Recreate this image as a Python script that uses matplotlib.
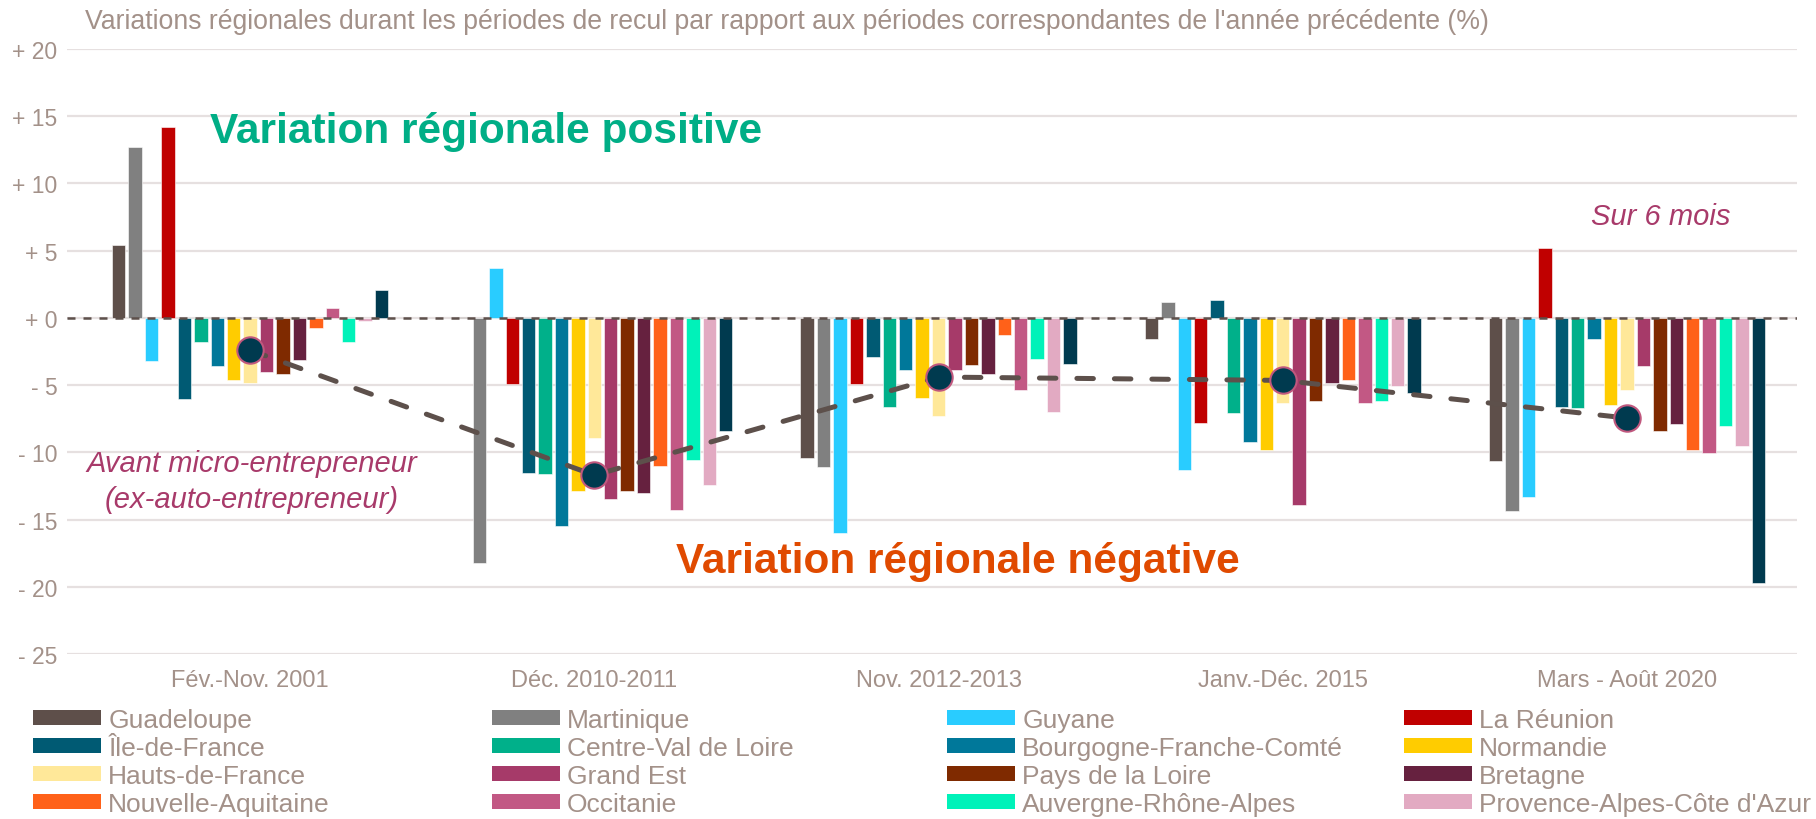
import matplotlib
matplotlib.use("Agg")
import matplotlib.pyplot as plt
from matplotlib.patches import Patch
import numpy as np

plt.rcParams["font.family"] = ["Liberation Sans", "DejaVu Sans"]

periods = ["Fév.-Nov. 2001", "Déc. 2010-2011", "Nov. 2012-2013",
           "Janv.-Déc. 2015", "Mars - Août 2020"]

regions = ["Guadeloupe", "Martinique", "Guyane", "La Réunion", "Île-de-France",
           "Centre-Val de Loire", "Bourgogne-Franche-Comté", "Normandie",
           "Hauts-de-France", "Grand Est", "Pays de la Loire", "Bretagne",
           "Nouvelle-Aquitaine", "Occitanie", "Auvergne-Rhône-Alpes",
           "Provence-Alpes-Côte d'Azur", "Corse"]

region_colors = ["#5E4F4A", "#808080", "#29CCFF", "#C00000", "#005A73",
                 "#00B08A", "#00789A", "#FFCC00", "#FFE899", "#A63A69",
                 "#7F2A00", "#66213F", "#FF6119", "#C25884", "#00F2B9",
                 "#E2AAC2", "#003A4F"]

# variation (%) per region, one value per period
guadeloupe = [5.4, 0.1, -10.4, -1.6, -10.65]
martinique = [12.7, -18.2, -11.1, 1.2, -14.4]
guyane = [-3.2, 3.7, -16.0, -11.35, -13.35]
la_reunion = [14.2, -4.9, -4.9, -7.85, 5.2]
ile_de_france = [-6.0, -11.5, -2.9, 1.35, -6.6]
centre_val_de_loire = [-1.8, -11.6, -6.6, -7.1, -6.7]
bourgogne_fc = [-3.6, -15.5, -3.9, -9.2, -1.6]
normandie = [-4.6, -12.9, -5.95, -9.85, -6.45]
hauts_de_france = [-4.85, -8.95, -7.3, -6.3, -5.35]
grand_est = [-4.0, -13.5, -3.9, -13.9, -3.55]
pays_de_la_loire = [-4.2, -12.9, -3.5, -6.2, -8.45]
bretagne = [-3.1, -13.0, -4.2, -4.85, -7.9]
nouvelle_aquitaine = [-0.75, -11.0, -1.25, -4.6, -9.85]
occitanie = [0.75, -14.3, -5.4, -6.3, -10.05]
auvergne_ra = [-1.8, -10.6, -3.05, -6.2, -8.05]
paca = [-0.25, -12.4, -7.0, -5.1, -9.5]
corse = [2.1, -8.4, -3.4, -5.6, -19.75]

national = [-2.4, -11.7, -4.4, -4.65, -7.45]

series = [guadeloupe, martinique, guyane, la_reunion, ile_de_france,
          centre_val_de_loire, bourgogne_fc, normandie, hauts_de_france,
          grand_est, pays_de_la_loire, bretagne, nouvelle_aquitaine,
          occitanie, auvergne_ra, paca, corse]

W, H = 1816, 820
TAUPE = "#A39189"

fig = plt.figure(figsize=(W / 100, H / 100), dpi=100)
ax = fig.add_axes([67 / W, 1 - 655 / H, (1797 - 67) / W, (655 - 50) / H])

x = np.arange(len(periods))
pitch = 0.0477
width = 0.039
n = len(series)
for j, (vals, col) in enumerate(zip(series, region_colors)):
    ax.bar(x + (j - (n - 1) / 2) * pitch, vals, width, color=col,
           edgecolor="white", linewidth=0.4, zorder=2)

ax.axhline(0, color="#5D504B", lw=1.8, ls=(0, (3.2, 3.2)), zorder=3)

ax.plot(x, national, color="#5D504B", lw=3.6, ls=(0, (3.3, 4.2)),
        dash_capstyle="round", zorder=4)
ax.plot(x, national, ls="none", marker="o", ms=19, mfc="#003A4F",
        mec="#C0587E", mew=1.5, zorder=5)

ax.set_xlim(-0.532, 4.494)
ax.set_ylim(-25, 20)
ticks = np.arange(-25, 21, 5)
ax.set_yticks(ticks)
ax.set_yticklabels([("+ %d" % t) if t >= 0 else ("- %d" % -t) for t in ticks])
ax.set_xticks(x)
ax.set_xticklabels(periods)
ax.tick_params(length=0, labelcolor=TAUPE)
ax.tick_params(axis="y", pad=7, labelsize=16.5)
ax.tick_params(axis="x", pad=11, labelsize=17)
ax.grid(axis="y", color="#E6E0E0", lw=1.6, zorder=0)
for s in ax.spines.values():
    s.set_visible(False)

fig.text(85 / W, 1 - 22 / H,
         "Variations régionales durant les périodes de recul par rapport aux "
         "périodes correspondantes de l'année précédente (%)",
         color=TAUPE, fontsize=19.2, ha="left", va="center")

fig.text(486 / W, 1 - 132 / H, "Variation régionale positive",
         color="#00AE86", fontsize=30.5, fontweight="bold", ha="center", va="center")
fig.text(958 / W, 1 - 562 / H, "Variation régionale négative",
         color="#E04A00", fontsize=30.5, fontweight="bold", ha="center", va="center")
fig.text(252 / W, 1 - 482 / H, "Avant micro-entrepreneur\n(ex-auto-entrepreneur)",
         color="#A83A6A", fontsize=21, style="italic", ha="center", va="center",
         linespacing=1.32)
fig.text(1661 / W, 1 - 217 / H, "Sur 6 mois",
         color="#A83A6A", fontsize=21, style="italic", ha="center", va="center")

# legend: 4 columns, row-wise reading order as in the original
col_x = [33, 492, 947, 1404]
for c in range(4):
    idx = list(range(c, 16, 4))
    handles = [Patch(facecolor=region_colors[i], edgecolor="none") for i in idx]
    fig.legend(handles, [regions[i] for i in idx], loc="upper left",
               bbox_to_anchor=(col_x[c] / W, 1 - 709 / H), frameon=False,
               fontsize=19, labelcolor=TAUPE, handlelength=2.58,
               handleheight=0.5, handletextpad=0.27, labelspacing=0.15,
               borderaxespad=0, borderpad=0)

fig.savefig("out.png", dpi=100)
